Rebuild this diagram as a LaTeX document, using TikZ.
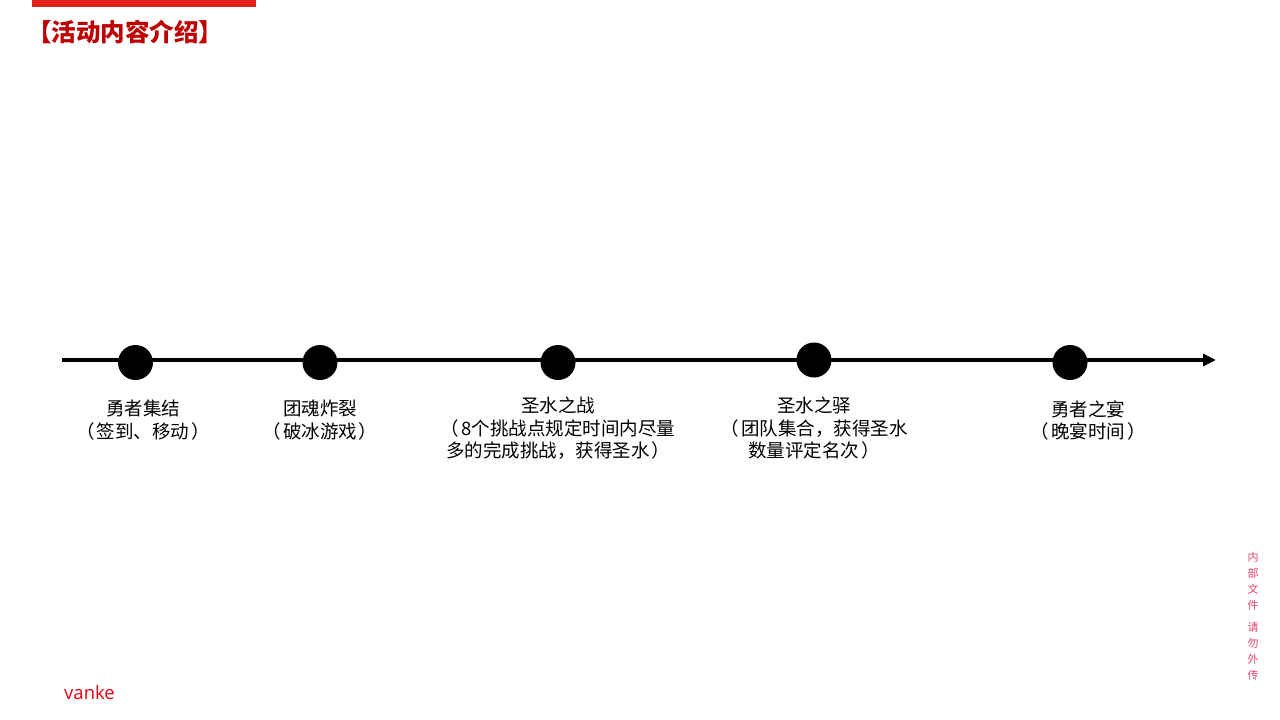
\documentclass[tikz,border=0pt]{standalone}
\usepackage{fontspec}
\setmainfont{Noto Sans CJK SC}
\newfontfamily\cjk{Noto Sans CJK SC}
\newfontfamily\logofont{Open Sans}
\usetikzlibrary{arrows.meta}
\definecolor{titlered}{HTML}{C00000}
\definecolor{barred}{HTML}{E2231A}
\definecolor{notered}{HTML}{E8456A}
\definecolor{logored}{HTML}{E60012}
\newcommand{\lp}{（\kern2pt}
\newcommand{\rp}{\kern2pt）}
\begin{document}
\begin{tikzpicture}[x=1pt,y=-1pt,
  dot/.style={circle,fill=black,minimum size=35pt,inner sep=0pt},
  lbl/.style={anchor=north,align=center,inner sep=0pt,font=\cjk\fontsize{18.5}{22.5}\selectfont},
  vnote/.style={text=notered,inner sep=0pt,font=\cjk\fontsize{11}{11}\selectfont}]
\useasboundingbox[fill=white] (0,0) rectangle (1280,720);
% top bar and title
\fill[barred] (32,0) rectangle (256,7);
\node[anchor=west,inner sep=0pt,text=titlered,font=\cjk\bfseries\fontsize{24.5}{24.5}\selectfont] (title) at (27,32) {【活动内容介绍】};
% timeline
\coordinate (start) at (62,360);
\coordinate (end) at (1216,360);
\draw[line width=4pt,-{Triangle[length=13pt,width=12pt]}] (start) -- (end);
\node[dot] (d1) at (135.5,362.5) {};
\node[dot] (d2) at (320,362.5) {};
\node[dot] (d3) at (558,362.5) {};
\node[dot] (d4) at (814,360) {};
\node[dot] (d5) at (1070,362.5) {};
% labels
\node[lbl] (l1) at (143,400) {勇者集结\\\lp 签到、移动\rp};
\node[lbl] (l2) at (320,400) {团魂炸裂\\\lp 破冰游戏\rp};
\node[lbl] (l3) at (558,397) {圣水之战\\\lp 8个挑战点规定时间内尽量\\多的完成挑战，获得圣水\rp};
\node[lbl] (l4) at (814,397) {圣水之驿\\\lp 团队集合，获得圣水\\数量评定名次\rp};
\node[lbl] (l5) at (1088,400) {勇者之宴\\\lp 晚宴时间\rp};
% side note
\node[vnote] (n1) at (1253,557) {内};
\node[vnote] (n2) at (1253,573) {部};
\node[vnote] (n3) at (1253,589) {文};
\node[vnote] (n4) at (1253,605) {件};
\node[vnote] (n5) at (1253,627) {请};
\node[vnote] (n6) at (1253,643) {勿};
\node[vnote] (n7) at (1253,659) {外};
\node[vnote] (n8) at (1253,675) {传};
% logo
\node[anchor=west,inner sep=0pt,text=logored,font=\logofont\fontsize{18.5}{18.5}\selectfont] (logo) at (64,693) {vanke};
\end{tikzpicture}
\end{document}
